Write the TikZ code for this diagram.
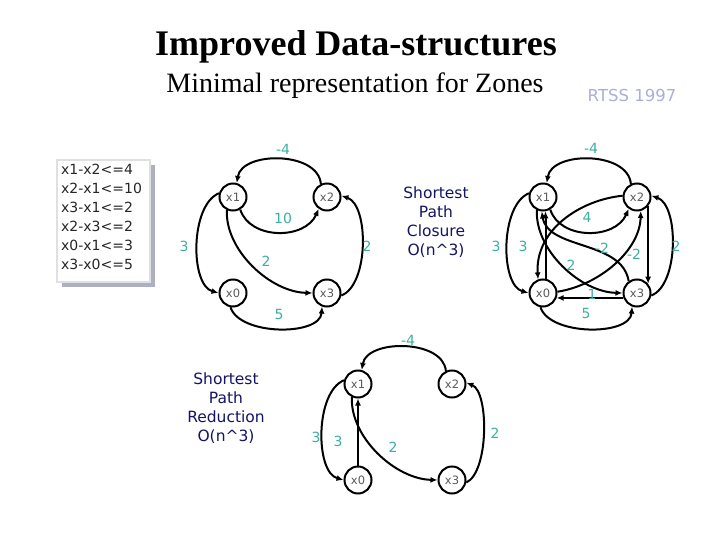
\documentclass[tikz,border=0pt]{standalone}
\usepackage{fontspec}
\setmainfont{Liberation Serif}
\newfontfamily\tah{DejaVu Sans}
\usepackage{tikz}
\usetikzlibrary{positioning,arrows.meta}

\definecolor{labcol}{RGB}{60,175,160}
\definecolor{navy}{RGB}{20,20,100}
\definecolor{rtss}{RGB}{170,175,215}

\begin{document}
\begin{tikzpicture}[x=1pt,y=-1pt,
    var/.style={circle,draw,line width=2pt,minimum size=27pt,inner sep=0pt,font=\tah\fontsize{11.5}{12}\selectfont,text=black!65},
    arr/.style={-{Latex[length=7pt,width=6pt]},line width=2pt},
    lab/.style={text=labcol,font=\tah\fontsize{14}{16}\selectfont,inner sep=0pt},
    note/.style={align=center,text=navy,font=\tah\fontsize{15.5}{19}\selectfont}
  ]
    \useasboundingbox (0,0) rectangle (720,540);
    % titles
    \node (title) at (356,47) {\fontsize{36}{40}\selectfont\bfseries Improved Data-structures};
    \node (sub) at (355,86) {\fontsize{28}{32}\selectfont Minimal representation for Zones};
    \node[text=rtss,font=\tah\fontsize{16.5}{18}\selectfont] (rtss) at (632,95) {RTSS 1997};
    % constraints box
    \fill[rtss!60!gray!80] (62,165) rectangle (155,287);
    \draw[line width=1.5pt,draw=black!12,fill=white] (57,160) rectangle (150,282);
    \node[anchor=north west,align=left,inner sep=0pt,font=\tah\fontsize{14}{19}\selectfont,text=black!85] (cons) at (61,164)
      {x1-x2<=4\\x2-x1<=10\\x3-x1<=2\\x2-x3<=2\\x0-x1<=3\\x3-x0<=5};
    % original graph
    \node[var] (x1) at (233,197) {x1};
    \node[var] (x2) at (327,197) {x2};
    \node[var] (x0) at (233,293) {x0};
    \node[var] (x3) at (327,293) {x3};
    \draw[arr] (x2.115) .. controls (318,151) and (242,151) .. (x1.75);
    \draw[arr] (x1.-60) .. controls (250,240) and (305,240) .. (x2.-125);
    \draw[arr] (x1.165) .. controls (190,205) and (190,285) .. (x0.180);
    \draw[arr] (x1.-115) .. controls (225,250) and (270,292) .. (x3.180);
    \draw[arr] (x3.-10) .. controls (369,285) and (369,205) .. (x2.5);
    \draw[arr] (x0.-100) .. controls (240,336) and (320,336) .. (x3.-110);
    \node[lab] at (283,149) {-4};
    \node[lab] at (283,218) {10};
    \node[lab] at (184,246) {3};
    \node[lab] at (266,261) {2};
    \node[lab] at (367,246) {2};
    \node[lab] at (279,314) {5};
    \node[note] (clos) at (436,222) {Shortest\\Path\\Closure\\O(n\^{}3)};
    % closure graph
    \begin{scope}[shift={(310,0)}]
    \node[var] (cx1) at (233,197) {x1};
    \node[var] (cx2) at (327,197) {x2};
    \node[var] (cx0) at (233,293) {x0};
    \node[var] (cx3) at (327,293) {x3};
    \draw[arr] (cx2.115) .. controls (318,151) and (242,151) .. (cx1.75);
    \draw[arr] (cx1.-60) .. controls (250,240) and (305,240) .. (cx2.-125);
    \draw[arr] (cx1.165) .. controls (190,205) and (190,285) .. (cx0.180);
    \draw[arr] (cx1.-115) .. controls (225,250) and (270,292) .. (cx3.180);
    \draw[arr] (cx3.-10) .. controls (369,285) and (369,205) .. (cx2.5);
    \draw[arr] (cx0.-100) .. controls (240,336) and (320,336) .. (cx3.-110);
    \draw[arr] (cx0.80) -- (cx1.-80);
    \draw[arr] (cx3.-160) -- (cx0.-20);
    \draw[arr] (cx2.-40) -- (cx3.40);
    \draw[arr] (cx3.125) .. controls (312,240) and (238,250) .. (cx1.-95);
    \draw[arr] (cx2.175) .. controls (270,200) and (225,230) .. (cx0.110);
    \draw[arr] (cx0.5) .. controls (290,285) and (330,250) .. (cx2.-75);
    \node[lab] at (281,148) {-4};
    \node[lab] at (277,217) {4};
    \node[lab] at (186,246) {3};
    \node[lab] at (213,246) {3};
    \node[lab] at (261,265) {2};
    \node[lab] at (292,248) {-2};
    \node[lab] at (324,254) {-2};
    \node[lab] at (366,246) {2};
    \node[lab] at (282,294) {1};
    \node[lab] at (276,313) {5};
    \end{scope}
    % reduced graph
    \node[note] (red) at (226,408) {Shortest\\Path\\Reduction\\O(n\^{}3)};
    \begin{scope}[shift={(125,187)}]
    \node[var] (rx1) at (233,197) {x1};
    \node[var] (rx2) at (327,197) {x2};
    \node[var] (rx0) at (233,293) {x0};
    \node[var] (rx3) at (327,293) {x3};
    \draw[arr] (rx2.115) .. controls (318,152) and (242,152) .. (rx1.75);
    \draw[arr] (rx1.165) .. controls (190,205) and (190,285) .. (rx0.180);
    \draw[arr] (rx1.-115) .. controls (225,250) and (270,292) .. (rx3.180);
    \draw[arr] (rx3.-10) .. controls (364,285) and (364,205) .. (rx2.5);
    \draw[arr] (rx0.90) -- (rx1.-90);
    \node[lab] at (283,153) {-4};
    \node[lab] at (191,250) {3};
    \node[lab] at (213,254) {3};
    \node[lab] at (268,260) {2};
    \node[lab] at (370,246) {2};
    \end{scope}
\end{tikzpicture}
\end{document}
